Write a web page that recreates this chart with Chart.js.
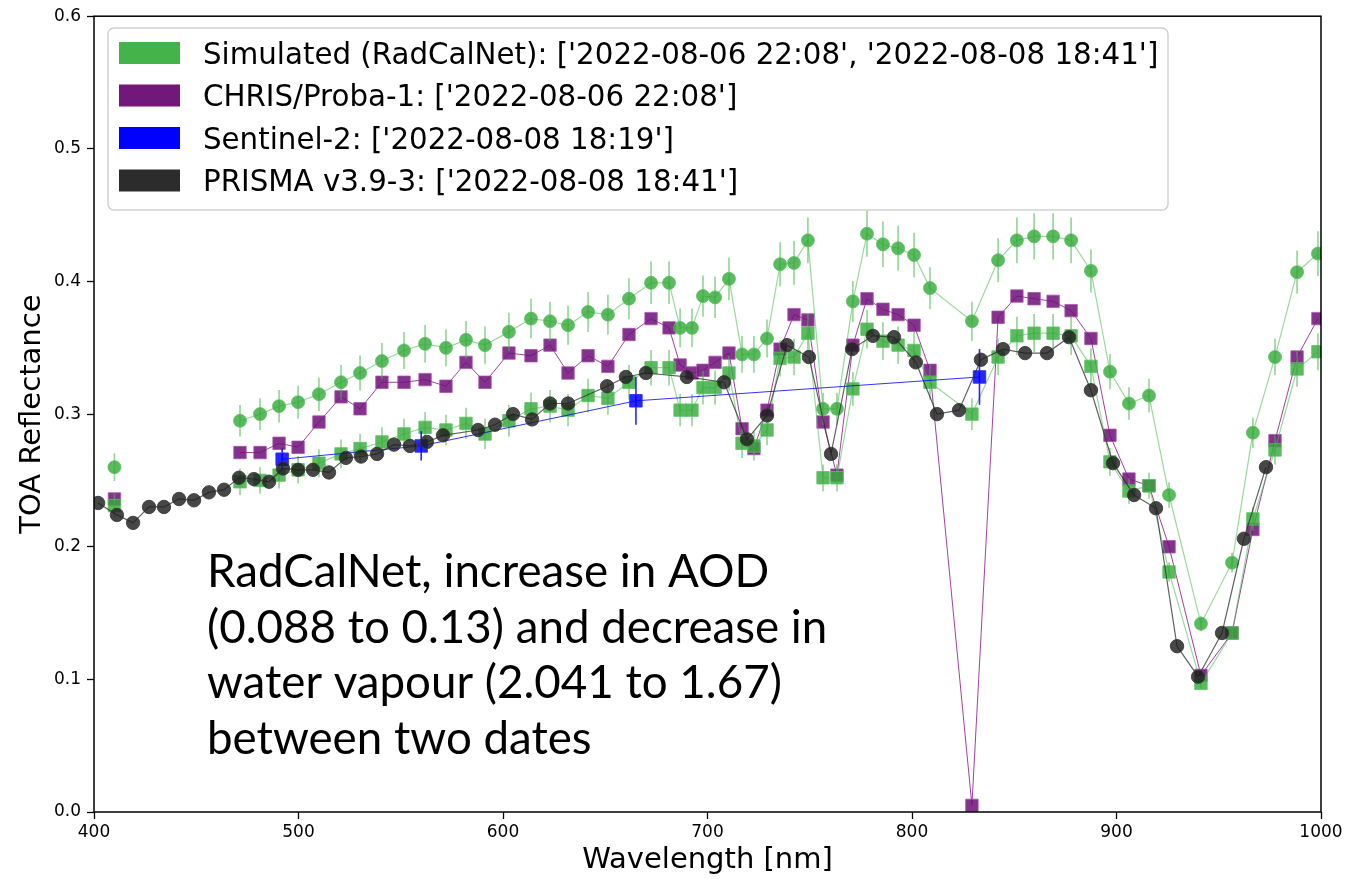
<!DOCTYPE html>
<html>
<head>
<meta charset="utf-8">
<script src="https://cdn.jsdelivr.net/npm/chart.js@4.4.0/dist/chart.umd.min.js"></script>
<style>
  html, body { margin: 0; padding: 0; background: #fff; }
  #wrap { width: 1347px; height: 879px; }
</style>
</head>
<body>
<div id="wrap"><canvas id="toaChart" width="1347" height="879"></canvas></div>
<script>
// CHRIS/Proba-1 band centres (nm), shared by the RadCalNet simulation
const chrisWavelengths = [410, 471.4, 481.2, 490.5, 499.8, 510, 520.8, 530.1, 540.8, 551.6,
    561.9, 572.1, 581.9, 591.2, 602.9, 613.7, 623, 631.8, 641.6, 651.3,
    661.6, 672.4, 681.2, 686.6, 692.4, 697.8, 703.7, 710.5, 716.9, 722.7,
    729.1, 735.5, 742.3, 749.1, 756.5, 763.3, 771.1, 778, 785.8, 793.2,
    801, 808.8, 829.3, 842.1, 851.3, 859.7, 869, 877.8, 887.5, 896.8,
    906.1, 915.9, 925.7, 941.3, 956.5, 966.7, 977.5, 988.3, 998.5];

// RadCalNet simulation, 2022-08-06 22:08 (circles)
const simDate1 = [0.260, 0.295, 0.300, 0.306, 0.309, 0.315, 0.324, 0.331, 0.340, 0.348,
    0.353, 0.350, 0.356, 0.352, 0.362, 0.372, 0.370, 0.367, 0.377, 0.375,
    0.387, 0.399, 0.399, 0.365, 0.365, 0.389, 0.388, 0.402, 0.345, 0.345,
    0.357, 0.413, 0.414, 0.431, 0.304, 0.304, 0.385, 0.436, 0.428, 0.425,
    0.420, 0.395, 0.370, 0.416, 0.431, 0.434, 0.434, 0.431, 0.408, 0.332,
    0.308, 0.314, 0.239, 0.142, 0.188, 0.286, 0.343, 0.407, 0.421];

// RadCalNet simulation, 2022-08-08 18:41 (squares)
const simDate2 = [0.231, 0.249, 0.250, 0.254, 0.258, 0.263, 0.270, 0.274, 0.279, 0.285,
    0.290, 0.288, 0.293, 0.285, 0.295, 0.304, 0.306, 0.303, 0.314, 0.312,
    0.324, 0.335, 0.335, 0.303, 0.303, 0.320, 0.320, 0.331, 0.278, 0.276,
    0.288, 0.342, 0.343, 0.361, 0.252, 0.252, 0.319, 0.364, 0.355, 0.352,
    0.348, 0.324, 0.300, 0.343, 0.359, 0.361, 0.361, 0.359, 0.336, 0.264,
    0.242, 0.246, 0.181, 0.097, 0.135, 0.221, 0.273, 0.334, 0.347];

const simRelUncertainty = 0.04;

const chrisReflectance = [0.236, 0.271, 0.271, 0.278, 0.275, 0.294, 0.313, 0.304, 0.324, 0.324,
    0.326, 0.321, 0.339, 0.324, 0.346, 0.344, 0.352, 0.331, 0.344, 0.336,
    0.360, 0.372, 0.365, 0.337, 0.331, 0.333, 0.339, 0.346, 0.289, 0.274,
    0.303, 0.349, 0.375, 0.371, 0.294, 0.254, 0.352, 0.387, 0.379, 0.375,
    0.367, 0.333, 0.005, 0.373, 0.389, 0.387, 0.385, 0.378, 0.357, 0.284,
    0.251, 0.246, 0.200, 0.103, 0.135, 0.213, 0.280, 0.343, 0.372];

const s2Wavelengths = [492, 560, 665, 833];
const s2Reflectance = [0.266, 0.276, 0.310, 0.328];
const s2Errors = [0.008, 0.011, 0.018, 0.021];

const prismaWavelengths = [402, 411.2, 419.1, 426.9, 434.2, 441.6, 448.9, 456.2, 463.6, 470.9,
    478.2, 485.6, 492.4, 499.8, 507.1, 514.9, 523.2, 530.6, 538.4, 546.7,
    554.5, 562.8, 570.7, 587.8, 596.1, 604.9, 614.2, 623, 631.8, 650.9,
    660.1, 669.9, 689.9, 708.1, 719.3, 729.1, 738.9, 749.6, 760.4, 770.7,
    780.9, 791.2, 801.9, 812.2, 823, 833.7, 844.5, 855.3, 866, 876.8,
    887.5, 898.3, 908.6, 919.3, 929.6, 939.9, 951.6, 962.3, 973.1];
const prismaReflectance = [0.233, 0.224, 0.218, 0.230, 0.230, 0.236, 0.235, 0.241, 0.243, 0.252,
    0.251, 0.249, 0.259, 0.258, 0.258, 0.256, 0.267, 0.268, 0.270, 0.277,
    0.276, 0.279, 0.284, 0.288, 0.292, 0.300, 0.296, 0.308, 0.308, 0.321,
    0.328, 0.331, 0.328, 0.324, 0.281, 0.299, 0.352, 0.343, 0.270, 0.349,
    0.359, 0.358, 0.339, 0.300, 0.303, 0.341, 0.349, 0.346, 0.346, 0.358,
    0.318, 0.263, 0.239, 0.229, 0.125, 0.102, 0.135, 0.206, 0.260];

const legendLabels = [
    "Simulated (RadCalNet): ['2022-08-06 22:08', '2022-08-08 18:41']",
    "CHRIS/Proba-1: ['2022-08-06 22:08']",
    "Sentinel-2: ['2022-08-08 18:19']",
    "PRISMA v3.9-3: ['2022-08-08 18:41']"
];
const legendColors = ['rgb(68,179,74)', 'rgb(114,24,122)', 'rgb(0,0,255)', 'rgb(44,44,44)'];

const noteLines = [
    'RadCalNet, increase in AOD',
    '(0.088 to 0.13) and decrease in',
    'water vapour (2.041 to 1.67)',
    'between two dates'
];

const toPoints = (xs, ys) => xs.map((x, i) => ({ x: x, y: ys[i] }));

// no line across the big gap between the first CHRIS band and the rest
const gapSegment = {
    borderColor: c => (c.p1.parsed.x - c.p0.parsed.x > 40 ? 'rgba(0,0,0,0)' : undefined)
};

// vertical error bars, drawn right before their own dataset
const errorBars = {
    id: 'errorBars',
    beforeDatasetDraw(chart, args) {
        const ds = chart.data.datasets[args.index];
        if (!ds.errors) return;
        const xs = chart.scales.x, ys = chart.scales.y, c = chart.ctx;
        c.save();
        c.strokeStyle = ds.errorColor;
        c.lineWidth = 1.6;
        ds.data.forEach((p, i) => {
            const px = xs.getPixelForValue(p.x);
            c.beginPath();
            c.moveTo(px, ys.getPixelForValue(p.y - ds.errors[i]));
            c.lineTo(px, ys.getPixelForValue(p.y + ds.errors[i]));
            c.stroke();
        });
        c.restore();
    }
};

const frame = {
    id: 'frame',
    afterDatasetsDraw(chart) {
        const a = chart.chartArea, c = chart.ctx;
        c.save();
        c.strokeStyle = '#000';
        c.lineWidth = 1.5;
        c.strokeRect(a.left, a.top, a.right - a.left, a.bottom - a.top);
        c.restore();
    }
};

const boxLegend = {
    id: 'boxLegend',
    afterDraw(chart) {
        const c = chart.ctx;
        c.save();
        c.beginPath();
        c.roundRect(108, 28, 1060, 182, 6);
        c.fillStyle = 'rgba(255,255,255,0.85)';
        c.fill();
        c.strokeStyle = 'rgb(210,210,210)';
        c.lineWidth = 1.5;
        c.stroke();
        c.font = '29.3px "DejaVu Sans"';
        c.textBaseline = 'alphabetic';
        legendLabels.forEach((t, i) => {
            const cy = 53 + i * 42.5;
            c.fillStyle = legendColors[i];
            c.fillRect(119, cy - 11, 61, 22);
            c.fillStyle = '#000';
            c.fillText(t, 203, cy + 10.5);
        });
        c.restore();
    }
};

const note = {
    id: 'note',
    afterDraw(chart) {
        const c = chart.ctx;
        c.save();
        c.font = '36px Lato';
        const size = 36 * 563 / c.measureText(noteLines[0]).width;
        c.font = size.toFixed(1) + 'px Lato';
        c.fillStyle = '#000';
        c.textBaseline = 'alphabetic';
        noteLines.forEach((t, i) => c.fillText(t, 207, 587 + i * 55.5));
        c.restore();
    }
};

Chart.defaults.font.family = '"DejaVu Sans"';
Chart.defaults.color = '#000';

const axisGrid = {
    display: true,
    drawOnChartArea: false,
    drawTicks: true,
    tickLength: 7,
    tickColor: '#000',
    tickWidth: 1.3
};

const ctx = document.getElementById('toaChart').getContext('2d');
const toaChart = new Chart(ctx, {
    type: 'scatter',
    data: {
        datasets: [{
                label: 'PRISMA v3.9-3',
                data: toPoints(prismaWavelengths, prismaReflectance),
                order: 0,
                showLine: true,
                borderColor: 'rgba(45,45,45,0.75)',
                borderWidth: 1.2,
                pointStyle: 'circle',
                pointRadius: 6.7,
                pointBackgroundColor: 'rgba(30,30,30,0.82)',
                pointBorderColor: 'rgba(60,60,60,0.9)',
                pointBorderWidth: 1
            },
            {
                label: 'Sentinel-2',
                data: toPoints(s2Wavelengths, s2Reflectance),
                errors: s2Errors,
                errorColor: 'rgba(0,0,255,0.85)',
                order: 1,
                showLine: true,
                borderColor: 'rgba(0,0,255,0.8)',
                borderWidth: 1,
                pointStyle: 'rect',
                pointRadius: 8.8,
                pointBackgroundColor: 'rgba(0,0,255,0.85)',
                pointBorderColor: 'rgba(40,40,255,0.9)',
                pointBorderWidth: 1
            },
            {
                label: 'Simulated (RadCalNet) 2022-08-08',
                data: toPoints(chrisWavelengths, simDate2),
                errors: simDate2.map(v => v * simRelUncertainty),
                errorColor: 'rgba(70,185,75,0.6)',
                order: 2,
                showLine: true,
                segment: gapSegment,
                borderColor: 'rgba(70,185,75,0.55)',
                borderWidth: 1.2,
                pointStyle: 'rect',
                pointRadius: 8.8,
                pointBackgroundColor: 'rgba(55,170,60,0.82)',
                pointBorderColor: 'rgba(90,195,95,0.8)',
                pointBorderWidth: 1
            },
            {
                label: 'Simulated (RadCalNet) 2022-08-06',
                data: toPoints(chrisWavelengths, simDate1),
                errors: simDate1.map(v => v * simRelUncertainty),
                errorColor: 'rgba(70,185,75,0.6)',
                order: 3,
                showLine: true,
                segment: gapSegment,
                borderColor: 'rgba(70,185,75,0.55)',
                borderWidth: 1.2,
                pointStyle: 'circle',
                pointRadius: 6.5,
                pointBackgroundColor: 'rgba(55,170,60,0.82)',
                pointBorderColor: 'rgba(90,195,95,0.8)',
                pointBorderWidth: 1
            },
            {
                label: 'CHRIS/Proba-1',
                data: toPoints(chrisWavelengths, chrisReflectance),
                order: 4,
                showLine: true,
                segment: gapSegment,
                borderColor: 'rgba(128,0,128,0.75)',
                borderWidth: 1,
                pointStyle: 'rect',
                pointRadius: 8.8,
                pointBackgroundColor: 'rgba(110,15,120,0.85)',
                pointBorderColor: 'rgba(165,80,175,0.75)',
                pointBorderWidth: 1
            }
        ]
    },
    options: {
        responsive: false,
        animation: false,
        devicePixelRatio: 1,
        layout: { padding: { top: 15, right: 26, left: 0, bottom: 0 } },
        plugins: {
            legend: { display: false },
            tooltip: { enabled: false }
        },
        scales: {
            x: {
                type: 'linear',
                min: 400,
                max: 1000,
                ticks: { stepSize: 100, font: { size: 17 }, padding: 3, maxRotation: 0, callback: v => String(v) },
                grid: axisGrid,
                border: { display: false },
                title: { display: true, text: 'Wavelength [nm]', font: { size: 29 }, padding: { top: 0, bottom: 1 } },
                afterFit: s => { s.height = 67; }
            },
            y: {
                min: 0,
                max: 0.6,
                ticks: { stepSize: 0.1, font: { size: 17 }, padding: 6, callback: v => v.toFixed(1) },
                grid: axisGrid,
                border: { display: false },
                title: { display: true, text: 'TOA Reflectance', font: { size: 29 }, padding: { top: 15, bottom: 0 } },
                afterFit: s => { s.width = 94; }
            }
        }
    },
    plugins: [errorBars, frame, boxLegend, note]
});
</script>
</body>
</html>
